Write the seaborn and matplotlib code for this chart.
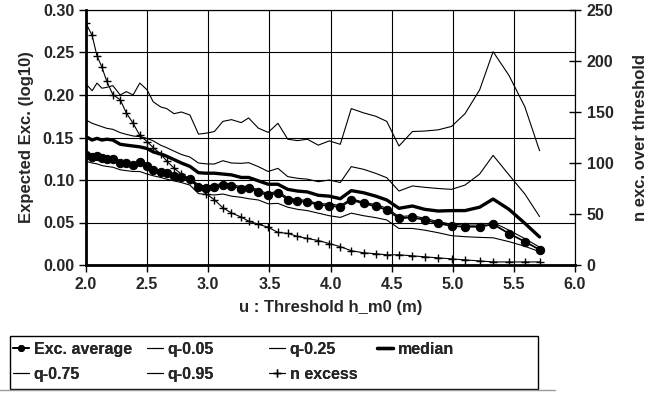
import matplotlib
matplotlib.use("Agg")
import matplotlib.pyplot as plt
import seaborn as sns
import pandas as pd
from matplotlib.lines import Line2D
from matplotlib.patches import Rectangle
from matplotlib.ticker import FormatStrFormatter, MultipleLocator

u = [2.00, 2.05, 2.09, 2.13, 2.17, 2.22, 2.28, 2.33, 2.385, 2.44, 2.50, 2.55, 2.61, 2.66, 2.72, 2.78, 2.85, 2.92,
     2.98, 3.05, 3.12, 3.19, 3.27, 3.33, 3.41, 3.49, 3.57, 3.65, 3.73, 3.81, 3.90,
     3.99, 4.08, 4.17, 4.27, 4.37, 4.46, 4.56, 4.67, 4.77, 4.88,
     4.99, 5.10, 5.22, 5.33, 5.46, 5.59, 5.71]

exc_average = [0.129, 0.127, 0.128, 0.1255, 0.125, 0.125, 0.120, 0.1195, 0.118, 0.121, 0.117, 0.112, 0.109, 0.108, 0.105, 0.103, 0.101, 0.092,
               0.091, 0.092, 0.094, 0.093, 0.090, 0.091, 0.086, 0.082, 0.085, 0.077, 0.075, 0.0745, 0.0705,
               0.070, 0.068, 0.0765, 0.0725, 0.069, 0.065, 0.055, 0.056, 0.053, 0.049,
               0.046, 0.045, 0.045, 0.048, 0.037, 0.0275, 0.018]

q05 = [0.122, 0.120, 0.119, 0.117, 0.116, 0.115, 0.112, 0.111, 0.110, 0.110, 0.107, 0.105, 0.103, 0.101, 0.099, 0.097, 0.094, 0.084,
       0.083, 0.0824, 0.0835, 0.081, 0.0796, 0.078, 0.0765, 0.072, 0.0725, 0.068, 0.0655, 0.064, 0.061,
       0.058, 0.056, 0.061, 0.058, 0.0557, 0.053, 0.043, 0.043, 0.041, 0.038,
       0.0345, 0.0333, 0.0325, 0.032, 0.0275, 0.022, 0.0157]

q25 = [0.131, 0.129, 0.130, 0.128, 0.127, 0.127, 0.122, 0.121, 0.120, 0.122, 0.119, 0.114, 0.111, 0.110, 0.107, 0.105, 0.103, 0.094,
       0.093, 0.094, 0.096, 0.095, 0.092, 0.093, 0.088, 0.084, 0.087, 0.079, 0.077, 0.076, 0.072,
       0.072, 0.070, 0.078, 0.074, 0.071, 0.067, 0.057, 0.058, 0.055, 0.051,
       0.048, 0.047, 0.047, 0.050, 0.041, 0.031, 0.021]

median = [0.151, 0.147, 0.149, 0.147, 0.148, 0.147, 0.142, 0.141, 0.140, 0.139, 0.137, 0.133, 0.1306, 0.128, 0.124, 0.120, 0.116, 0.1086,
          0.108, 0.108, 0.107, 0.106, 0.103, 0.103, 0.099, 0.095, 0.095, 0.089, 0.087, 0.086, 0.082,
          0.081, 0.078, 0.0875, 0.085, 0.081, 0.0765, 0.0667, 0.0694, 0.0655, 0.0635,
          0.064, 0.064, 0.068, 0.0776, 0.0655, 0.049, 0.033]

q75 = [0.1706, 0.1667, 0.1647, 0.1627, 0.1608, 0.1596, 0.1557, 0.1537, 0.1518, 0.151, 0.149, 0.146, 0.141, 0.138, 0.134, 0.130, 0.127, 0.120,
       0.119, 0.1188, 0.1227, 0.120, 0.1196, 0.1204, 0.1157, 0.110, 0.1137, 0.104, 0.102, 0.101, 0.098,
       0.100, 0.097, 0.1157, 0.1126, 0.1078, 0.1027, 0.087, 0.093, 0.0914, 0.090,
       0.089, 0.094, 0.107, 0.129, 0.106, 0.0835, 0.057]

q95 = [0.213, 0.205, 0.214, 0.208, 0.209, 0.211, 0.200, 0.204, 0.200, 0.214, 0.206, 0.192, 0.186, 0.184, 0.178, 0.180, 0.1765, 0.154,
       0.155, 0.157, 0.169, 0.171, 0.1675, 0.173, 0.161, 0.156, 0.1667, 0.148, 0.1463, 0.148, 0.141,
       0.146, 0.142, 0.184, 0.179, 0.175, 0.169, 0.140, 0.157, 0.1576, 0.159,
       0.163, 0.178, 0.206, 0.251, 0.223, 0.186, 0.1345]

n_excess = [237, 225, 205, 194, 180, 167, 162, 149, 139, 127, 121, 115, 109, 102, 95, 89, 83, 76,
            70, 64, 56, 51, 47, 43, 40, 37, 32, 31, 28, 26, 24,
            21, 18, 14, 12, 11, 10, 10, 9, 8, 7,
            6, 5, 4, 3, 3, 3, 3]

x_ticks = [2.0, 2.5, 3.0, 3.5, 4.0, 4.5, 5.0, 5.5, 6.0]

df = pd.DataFrame({"u": u, "avg": exc_average, "q05": q05, "q25": q25,
                   "median": median, "q75": q75, "q95": q95, "n": n_excess})

sns.set_style("white")
plt.rcParams["font.family"] = ["Liberation Sans", "DejaVu Sans"]
plt.rcParams["font.weight"] = "bold"
FS = 11.5

fig = plt.figure(figsize=(6.63, 3.95), dpi=100)
ax = fig.add_axes([86 / 663, 1 - 265 / 395, (575 - 86) / 663, 255 / 395])

ax.set_axisbelow(True)
ax.grid(True, color="black", linewidth=0.8)

sns.lineplot(data=df, x="u", y="q95", ax=ax, color="black", linewidth=0.8, label="q-0.95")
sns.lineplot(data=df, x="u", y="q75", ax=ax, color="black", linewidth=0.8, label="q-0.75")
sns.lineplot(data=df, x="u", y="q05", ax=ax, color="black", linewidth=0.8, label="q-0.05")
sns.lineplot(data=df, x="u", y="q25", ax=ax, color="black", linewidth=0.8, label="q-0.25")
sns.lineplot(data=df, x="u", y="median", ax=ax, color="black", linewidth=2.4, label="median")
sns.lineplot(data=df, x="u", y="avg", ax=ax, color="black", linewidth=1.3, marker="o",
             markersize=6, markeredgecolor="black", markerfacecolor="black", label="Exc. average")
ax.get_legend().remove()

ax2 = ax.twinx()
sns.lineplot(data=df, x="u", y="n", ax=ax2, color="black", linewidth=0.8, marker="+",
             markersize=6, markeredgewidth=1.0, markeredgecolor="black", label="n excess")
ax2.get_legend().remove()

ax.set_xlim(2.0, 6.0)
ax.set_ylim(0.0, 0.30)
ax2.set_ylim(0, 250)
ax.set_xticks(x_ticks)
ax.xaxis.set_major_formatter(FormatStrFormatter("%.1f"))
ax.yaxis.set_major_locator(MultipleLocator(0.05))
ax.yaxis.set_major_formatter(FormatStrFormatter("%.2f"))
ax2.yaxis.set_major_locator(MultipleLocator(50))

for a in (ax, ax2):
    for s in a.spines.values():
        s.set_color("black")
        s.set_linewidth(0.8)
ax.spines["left"].set_linewidth(2.0)
ax.spines["bottom"].set_linewidth(2.0)
ax2.spines["left"].set_visible(False)
ax2.spines["bottom"].set_visible(False)

ax.tick_params(axis="both", which="major", direction="out", length=5, width=1.0,
               color="black", labelsize=FS, bottom=True, left=True)
ax2.tick_params(axis="y", direction="inout", length=9, width=1.0, color="black",
                labelsize=FS, right=True, pad=4)
for lbl in ax.get_xticklabels() + ax.get_yticklabels() + ax2.get_yticklabels():
    lbl.set_fontweight("bold")

ax.set_xlabel("u : Threshold h_m0 (m)", fontsize=FS + 0.5, fontweight="bold", labelpad=6)
ax.set_ylabel("Expected Exc. (log10)", fontsize=FS + 0.5, fontweight="bold", labelpad=6)
ax2.set_ylabel("n exc. over threshold", fontsize=FS + 0.5, fontweight="bold", labelpad=14)

# legend: four column legends inside one frame
h_avg = Line2D([], [], color="black", lw=1.3, marker="o", markersize=4)
h_q05 = Line2D([], [], color="black", lw=0.8)
h_q25 = Line2D([], [], color="black", lw=0.8)
h_med = Line2D([], [], color="black", lw=2.4)
h_q75 = Line2D([], [], color="black", lw=0.8)
h_q95 = Line2D([], [], color="black", lw=0.8)
h_n = Line2D([], [], color="black", lw=0.8, marker="+", markersize=6)
columns = [([h_avg, h_q75], ["Exc. average", "q-0.75"], 13),
           ([h_q05, h_q95], ["q-0.05", "q-0.95"], 147),
           ([h_q25, h_n], ["q-0.25", "n excess"], 269),
           ([h_med], ["median"], 377)]
for hs, ls, xpx in columns:
    lg = fig.legend(hs, ls, loc="upper left",
                    bbox_to_anchor=(xpx / 663, 1 - 342 / 395), bbox_transform=fig.transFigure,
                    frameon=False, prop={"size": FS, "weight": "bold"},
                    handlelength=1.0, handletextpad=0.3, borderpad=0, labelspacing=0.6,
                    borderaxespad=0)
    fig.add_artist(lg)

fig.add_artist(Rectangle((10 / 663, 1 - 389 / 395), (538 - 10) / 663, (389 - 336) / 395,
                         transform=fig.transFigure, fill=False, edgecolor="black", linewidth=1.0))
fig.add_artist(Line2D([0, 555 / 663], [1 - 389.5 / 395, 1 - 389.5 / 395],
                      transform=fig.transFigure, color="#999999", linewidth=1.0))

fig.savefig("out.png", dpi=100)
